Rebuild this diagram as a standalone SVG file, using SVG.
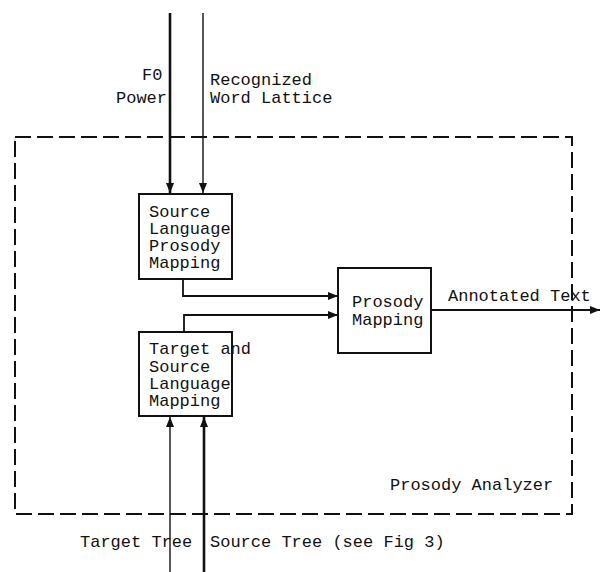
<svg xmlns="http://www.w3.org/2000/svg" width="600" height="572" viewBox="0 0 600 572">
  <style>
    .t { font-family: "Liberation Mono", "Courier New", monospace; font-size: 17px; fill: #111; }
    .box { fill: none; stroke: #111; stroke-width: 2; }
    .ln { fill: none; stroke: #111; stroke-width: 1.8; }
    .thk { fill: none; stroke: #111; stroke-width: 2.6; }
    .thn { fill: none; stroke: #111; stroke-width: 1.4; }
    .dash { fill: none; stroke: #111; stroke-width: 2; stroke-dasharray: 16 6; }
  </style>
  <defs>
    <marker id="ah" viewBox="0 0 10 10" refX="10" refY="5" markerWidth="10" markerHeight="10" markerUnits="userSpaceOnUse" orient="auto">
      <path d="M0,1 L10,5 L0,9 Z" fill="#111"/>
    </marker>
  </defs>
  <rect width="600" height="572" fill="#fff"/>

  <!-- enclosing analyzer boundary -->
  <g id="prosody-analyzer">
    <rect class="dash" x="15" y="137" width="557" height="377"/>
    <text class="t" x="390" y="490">Prosody Analyzer</text>
  </g>

  <g id="source-language-prosody-mapping">
    <rect class="box" x="139" y="194" width="93" height="85"/>
    <text class="t" x="149" y="217">Source</text>
    <text class="t" x="149" y="234">Language</text>
    <text class="t" x="149" y="251">Prosody</text>
    <text class="t" x="149" y="268">Mapping</text>
  </g>

  <g id="target-source-language-mapping">
    <rect class="box" x="139" y="332" width="93" height="84"/>
    <text class="t" x="149" y="354">Target and</text>
    <text class="t" x="149" y="372">Source</text>
    <text class="t" x="149" y="389">Language</text>
    <text class="t" x="149" y="406">Mapping</text>
  </g>

  <g id="prosody-mapping">
    <rect class="box" x="338" y="268" width="93" height="85"/>
    <text class="t" x="352" y="307">Prosody</text>
    <text class="t" x="352" y="325">Mapping</text>
  </g>

  <g id="connectors">
    <!-- inputs from above -->
    <line class="thk" x1="170" y1="13" x2="170" y2="193" marker-end="url(#ah)"/>
    <line class="thn" x1="203" y1="13" x2="203" y2="193" marker-end="url(#ah)"/>
    <!-- inputs from below -->
    <line class="thn" x1="170" y1="572" x2="170" y2="417" marker-end="url(#ah)"/>
    <line class="thk" x1="204" y1="572" x2="204" y2="417" marker-end="url(#ah)"/>
    <!-- into prosody mapping -->
    <polyline class="ln" points="183,279 183,296 338,296" marker-end="url(#ah)"/>
    <polyline class="ln" points="184,332 184,315 338,315" marker-end="url(#ah)"/>
    <!-- output -->
    <line class="ln" x1="431" y1="310" x2="600" y2="310" marker-end="url(#ah)"/>
  </g>

  <g id="labels">
    <text class="t" x="142" y="80">F0</text>
    <text class="t" x="116" y="103">Power</text>
    <text class="t" x="210" y="85">Recognized</text>
    <text class="t" x="210" y="103">Word Lattice</text>
    <text class="t" x="448" y="301">Annotated Text</text>
    <text class="t" x="80" y="547">Target Tree</text>
    <text class="t" x="210" y="547">Source Tree (see Fig 3)</text>
  </g>
</svg>
